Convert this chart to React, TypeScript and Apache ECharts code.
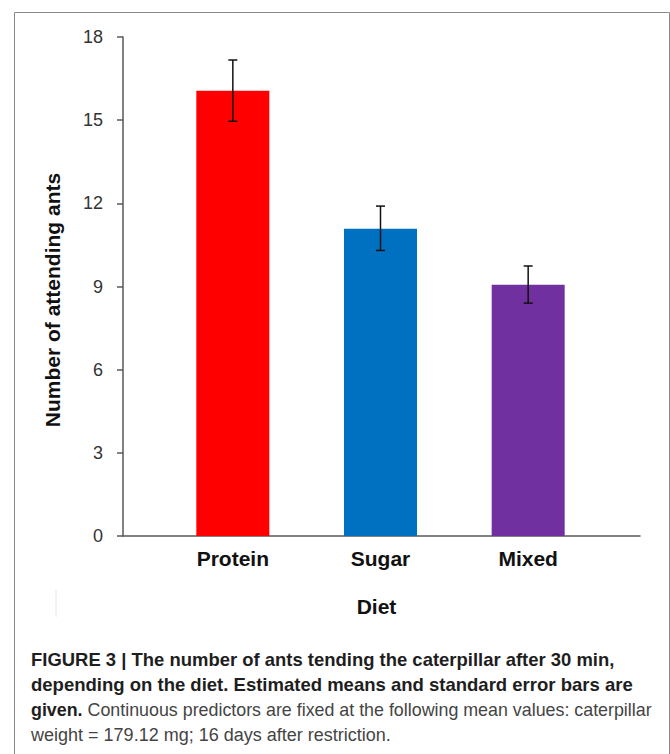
import React, { useEffect, useRef } from "react";
import * as echarts from "echarts";

const categories = ["Protein", "Sugar", "Mixed"];
const means = [16.06, 11.08, 9.06];
const lowerErr = [14.96, 10.3, 8.4];
const upperErr = [17.17, 11.9, 9.74];
const barColors = ["#ff0000", "#0070c0", "#7030a0"];
const yTicks = { min: 0, max: 18, interval: 3 };
const yTitle = "Number of attending ants";
const xTitle = "Diet";

const captionLines: { bold: string; normal: string }[] = [
  { bold: "FIGURE 3 | The number of ants tending the caterpillar after 30 min,", normal: "" },
  { bold: "depending on the diet. Estimated means and standard error bars are", normal: "" },
  { bold: "given.", normal: " Continuous predictors are fixed at the following mean values: caterpillar" },
  { bold: "", normal: "weight = 179.12 mg; 16 days after restriction." },
];
// target pixel widths of each caption line
const captionWidths = [584, 602, 621, 360];

export default function App() {
  const ref = useRef<HTMLDivElement>(null);
  useEffect(() => {
    if (!ref.current) return;
    const chart = echarts.init(ref.current, null, { renderer: "svg" });
    const axisColor = "#595959";
    const baseFont = "'Liberation Sans', Arial, sans-serif";
    const capSize = 18;
    const canvas = document.createElement("canvas");
    const ctx = canvas.getContext("2d")!;
    const measure = (t: string, bold: boolean) => {
      if (!t) return 0;
      ctx.font = (bold ? "bold " : "") + capSize + "px 'Liberation Sans', Arial, sans-serif";
      return ctx.measureText(t).width;
    };
    const captionGraphics = captionLines.map((ln, i) => {
      const w = measure(ln.bold, true) + measure(ln.normal, false);
      const sx = w > 0 ? captionWidths[i] / w : 1;
      let text = "";
      if (ln.bold) text += "{b|" + ln.bold + "}";
      if (ln.normal) text += "{n|" + ln.normal + "}";
      return {
        type: "text",
        x: 31,
        y: 660 + i * 25,
        scaleX: sx,
        silent: true,
        style: {
          text,
          verticalAlign: "middle",
          align: "left",
          rich: {
            b: { fontFamily: baseFont, fontWeight: "bold", fontSize: capSize, fill: "#1e1e1e" },
            n: { fontFamily: baseFont, fontWeight: "normal", fontSize: capSize, fill: "#444444" },
          },
        },
      };
    });

    chart.setOption({
      animation: false,
      backgroundColor: "#ffffff",
      textStyle: { fontFamily: baseFont },
      grid: [
        { left: 123, top: 37, width: 517, height: 499 },
        { left: 159, top: 37, width: 443, height: 499 },
      ],
      xAxis: [
        {
          type: "value",
          gridIndex: 0,
          min: 0,
          max: 1,
          axisLine: { show: true, lineStyle: { color: axisColor, width: 1.5 } },
          axisTick: { show: false },
          axisLabel: { show: false },
          splitLine: { show: false },
        },
        {
          type: "category",
          gridIndex: 1,
          data: categories,
          axisLine: { show: false },
          axisTick: { show: false },
          axisLabel: { fontSize: 21, fontWeight: "bold", color: "#111111", margin: 12 },
          name: xTitle,
          nameLocation: "middle",
          nameGap: 60,
          nameTextStyle: { fontSize: 21, fontWeight: "bold", color: "#111111", padding: [0, 8, 0, 0] },
        },
      ],
      yAxis: [
        {
          type: "value",
          gridIndex: 0,
          min: yTicks.min,
          max: yTicks.max,
          interval: yTicks.interval,
          axisLine: { show: true, lineStyle: { color: axisColor, width: 1.5 } },
          axisTick: { show: true, inside: false, length: 6, lineStyle: { color: axisColor, width: 1.5 } },
          axisLabel: { fontSize: 18, color: "#333333", margin: 20 },
          splitLine: { show: false },
        },
        {
          type: "value",
          gridIndex: 1,
          min: yTicks.min,
          max: yTicks.max,
          show: false,
          splitLine: { show: false },
        },
      ],
      series: [
        {
          type: "bar",
          xAxisIndex: 1,
          yAxisIndex: 1,
          barWidth: 73,
          data: means.map((v, i) => ({ value: v, itemStyle: { color: barColors[i] } })),
        },
        {
          type: "custom",
          xAxisIndex: 1,
          yAxisIndex: 1,
          data: categories.map((_, i) => [i, lowerErr[i], upperErr[i]]),
          renderItem: (params: any, api: any) => {
            const lo = api.coord([api.value(0), api.value(1)]);
            const hi = api.coord([api.value(0), api.value(2)]);
            const hw = 4.5;
            const style = { stroke: "#111111", lineWidth: 1.5 };
            return {
              type: "group",
              children: [
                { type: "line", shape: { x1: hi[0], y1: hi[1], x2: lo[0], y2: lo[1] }, style },
                { type: "line", shape: { x1: hi[0] - hw, y1: hi[1], x2: hi[0] + hw, y2: hi[1] }, style },
                { type: "line", shape: { x1: lo[0] - hw, y1: lo[1], x2: lo[0] + hw, y2: lo[1] }, style },
              ],
            };
          },
          z: 5,
        },
      ],
      graphic: [
        {
          type: "rect",
          left: 12,
          top: 10,
          shape: { width: 655, height: 770 },
          style: { fill: "none", stroke: "#8a8a8a", lineWidth: 1 },
          silent: true,
        },
        {
          type: "line",
          shape: { x1: 56, y1: 590, x2: 56, y2: 617 },
          style: { stroke: "#e6e6e6", lineWidth: 1 },
          silent: true,
        },
        {
          type: "text",
          x: 52,
          y: 300,
          rotation: Math.PI / 2,
          silent: true,
          style: {
            text: yTitle,
            align: "center",
            verticalAlign: "middle",
            fontFamily: baseFont,
            fontWeight: "bold",
            fontSize: 21,
            fill: "#111111",
          },
        },
        ...captionGraphics,
      ],
    });
    return () => chart.dispose();
  }, []);
  return (
    <div
      ref={ref}
      style={{ position: "absolute", left: 0, top: 0, width: 670, height: 754 }}
    />
  );
}
